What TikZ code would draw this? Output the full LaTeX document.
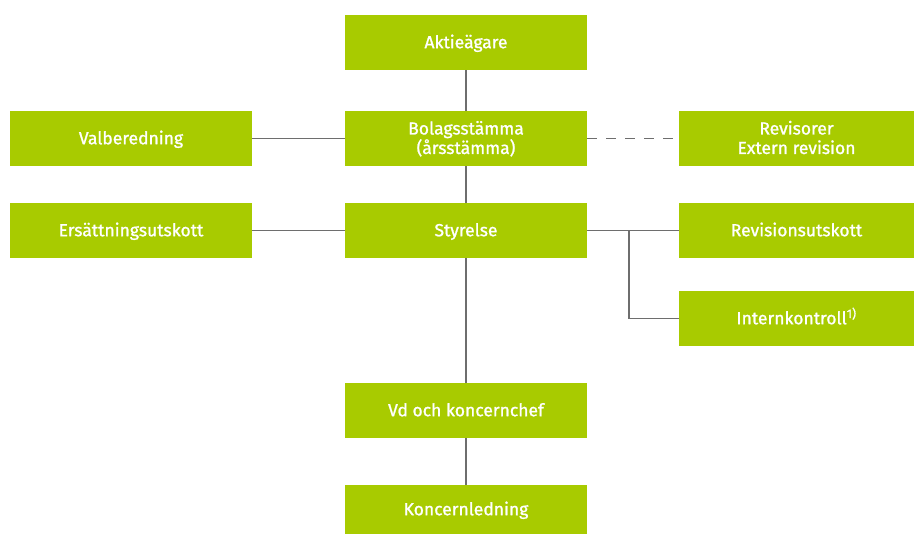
\documentclass[tikz,border=0pt]{standalone}
\usepackage{fontspec}
\setmainfont{Fira Sans}[FakeBold=1.2]
\definecolor{boxgreen}{HTML}{A8CB00}
\definecolor{linegray}{HTML}{6E6E6E}
\begin{document}
\begin{tikzpicture}[x=1pt,y=-1pt,
  gbox/.style={fill=boxgreen,draw=none,text=white,minimum width=242pt,minimum height=55pt,inner sep=0pt,align=center,text height=11.5pt,text depth=0pt,font=\fontsize{17.5}{19.5}\selectfont},
  twoline/.style={text height=31pt},
  conn/.style={draw=linegray,line width=1.4pt}]
\useasboundingbox (0,0) rectangle (914,534);
\node[gbox] (akt) at (466,42.5) {Aktieägare};
\node[gbox,twoline] (bol) at (466,138.5) {Bolagsstämma\\(årsstämma)};
\node[gbox] (val) at (131,138.5) {Valberedning};
\node[gbox,twoline,minimum width=235pt] (rev) at (796.5,138.5) {Revisorer\\Extern revision};
\node[gbox] (ers) at (131,230.5) {Ersättningsutskott};
\node[gbox] (sty) at (466,230.5) {Styrelse};
\node[gbox,minimum width=235pt] (rvu) at (796.5,230.5) {Revisionsutskott};
\node[gbox,minimum width=235pt] (ink) at (796.5,318.5) {Internkontroll\textsuperscript{1)}};
\node[gbox] (vd) at (466,410.5) {Vd och koncernchef};
\node[gbox,minimum height=49pt] (kl) at (466,509.5) {Koncernledning};
\coordinate (br) at (629,230.5);
\draw[conn] (akt) -- (bol);
\draw[conn] (val) -- (bol);
\draw[conn,dash pattern=on 10pt off 9pt] (bol) -- (rev);
\draw[conn] (bol) -- (sty);
\draw[conn] (ers) -- (sty);
\draw[conn] (sty) -- (rvu);
\draw[conn] (br) |- (ink);
\draw[conn] (sty) -- (vd);
\draw[conn] (vd) -- (kl);
\end{tikzpicture}
\end{document}
